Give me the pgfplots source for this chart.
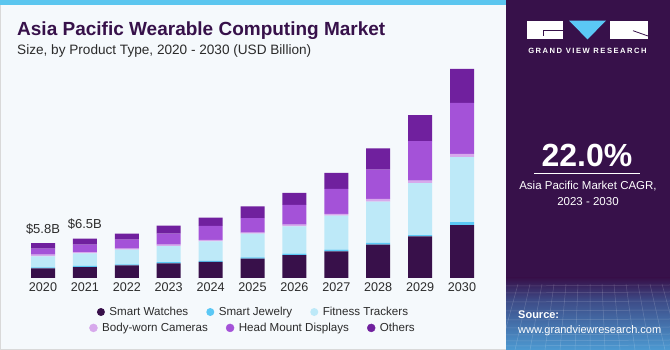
\documentclass[border=0pt]{standalone}
\usepackage{fontspec}
\setmainfont{Liberation Sans}
\newfontfamily\spaced[LetterSpace=20]{Liberation Sans}
\usepackage{pgfplots}
\usepackage{pgfplotstable}
\pgfplotsset{compat=1.18}
\definecolor{cSW}{HTML}{38104A}
\definecolor{cSJ}{HTML}{5BC8F5}
\definecolor{cFT}{HTML}{BDE9F8}
\definecolor{cBW}{HTML}{D7A9EC}
\definecolor{cHM}{HTML}{A452D8}
\definecolor{cOT}{HTML}{70209E}
\definecolor{bg}{HTML}{F5F9FC}
\definecolor{panel}{HTML}{37114A}
\definecolor{topbar}{HTML}{5BC6EF}
\definecolor{titlec}{HTML}{37114A}
\definecolor{txt}{HTML}{2B2B2B}
\definecolor{gblue}{HTML}{4C9AD2}
\definecolor{gmid}{HTML}{3D4A86}

\pgfplotstableread{
x SW SJ FT BW HM OT
0 1.61 0.17 1.83 0.28 1.00 0.94
1 1.83 0.17 2.11 0.22 1.22 1.00
2 2.11 0.17 2.44 0.17 1.50 1.00
3 2.44 0.22 2.67 0.22 1.83 1.33
4 2.67 0.17 3.28 0.22 2.33 1.39
5 3.22 0.22 3.94 0.17 2.44 1.94
6 3.83 0.22 4.56 0.28 3.28 2.00
7 4.44 0.28 5.67 0.28 4.17 2.67
8 5.56 0.28 6.89 0.44 4.89 3.56
9 6.94 0.22 8.67 0.39 6.61 4.33
10 8.83 0.50 10.80 0.55 8.50 5.67
}\datatable

\begin{document}
\begin{tikzpicture}[x=1pt,y=1pt]
% background
\fill[bg] (0,0) rectangle (670,350);
\draw[color=black!15, line width=0.8pt] (0.4,0.4) rectangle (669.6,349.6);
\fill[topbar] (0,345) rectangle (506,350);
% right panel
\fill[panel] (506,0) rectangle (670,350);
\shade[top color=panel, bottom color=gmid] (506,50) rectangle (670,72);
\shade[top color=gmid, bottom color=gblue] (506,0) rectangle (670,50.2);
\begin{scope}[white, opacity=0.18, line width=0.5pt]
\foreach \yy in {4,9,15,22,30,39,48,57,64} {\draw (506,\yy) -- (670,\yy+1);}
\foreach \xx in {500,515,530,545,560,575,590,605,620,635,650,665,680} {\draw (\xx,0) -- (\xx*0.8+118,66);}
\end{scope}
% logo
\fill[white] (527,310.7) rectangle (563,329.3);
\draw[panel, line width=0.8pt] (543,314) -- (543,319.3) -- (563,319.3);
\fill[cSJ] (569,329.3) -- (606,329.3) -- (587.5,310.7) -- cycle;
\fill[white] (610,310.7) rectangle (648,329.3);
\draw[panel, line width=0.8pt] (633,319.3) -- (648,314);
\node[text=white, font=\spaced\bfseries\fontsize{7.6}{9}\selectfont, anchor=base] at (587.5,296.5) {GRAND VIEW RESEARCH};
% CAGR
\node[text=white, font=\bfseries\fontsize{32}{36}\selectfont, anchor=base] at (587,183) {22.0\%};
\draw[white, line width=0.8pt] (534,176.7) -- (640,176.7);
\node[text=white, font=\fontsize{11.5}{13}\selectfont, anchor=base] at (588,160.5) {Asia Pacific Market CAGR,};
\node[text=white, font=\fontsize{11.5}{13}\selectfont, anchor=base] at (588,144.5) {2023 - 2030};
\node[text=white, font=\bfseries\fontsize{11}{13}\selectfont, anchor=base west, inner sep=0] at (518,31) {Source:};
\node[text=white, font=\fontsize{11}{13}\selectfont, anchor=base west, inner sep=0] at (518,16) {www.grandviewresearch.com};
% titles
\node[text=titlec, font=\bfseries\fontsize{19}{22}\selectfont, anchor=base west, inner sep=0] at (17,314) {Asia Pacific Wearable Computing Market};
\node[text=txt, font=\fontsize{13.6}{16}\selectfont, anchor=base west, inner sep=0] at (17,295.7) {Size, by Product Type, 2020 - 2030 (USD Billion)};

\begin{axis}[
  at={(1.1pt,72pt)}, anchor=south west,
  scale only axis, width=502.8pt, height=218pt,
  xmin=-1, xmax=11, ymin=0, ymax=36.33,
  enlargelimits=false, clip=false,
  axis line style={draw=none},
  major tick length=0pt,
  ytick=\empty,
  xtick={0,...,10},
  xticklabels={2020,2021,2022,2023,2024,2025,2026,2027,2028,2029,2030},
  xticklabel style={font=\fontsize{12.6}{14}\selectfont, text=txt, yshift=-1.3pt},
  ybar stacked, bar width=24pt,
  legend style={at={(0.502,-0.156)}, anchor=center, draw=none, fill=none,
    font=\fontsize{11.6}{13}\selectfont, text=txt,
    /tikz/every odd column/.append style={column sep=2.5pt},
    /tikz/every even column/.append style={column sep=16pt}},
  legend columns=3,
]
\addplot[fill=cSW, draw=none, legend image code/.code={\fill[cSW] (0pt,0pt) circle (4pt);}] table[x=x,y=SW] {\datatable};
\addlegendentry{Smart Watches}
\addplot[fill=cSJ, draw=none, legend image code/.code={\fill[cSJ] (0pt,0pt) circle (4pt);}] table[x=x,y=SJ] {\datatable};
\addlegendentry{Smart Jewelry}
\addplot[fill=cFT, draw=none, legend image code/.code={\fill[cFT] (0pt,0pt) circle (4pt);}] table[x=x,y=FT] {\datatable};
\addlegendentry{Fitness Trackers}
\addplot[fill=cBW, draw=none, forget plot] table[x=x,y=BW] {\datatable};
\addplot[fill=cHM, draw=none, forget plot] table[x=x,y=HM] {\datatable};
\addplot[fill=cOT, draw=none, forget plot] table[x=x,y=OT] {\datatable};
\node[font=\fontsize{13}{15}\selectfont, text=txt, anchor=base] at (axis cs:0,5.83) [yshift=10pt] {\$5.8B};
\node[font=\fontsize{13}{15}\selectfont, text=txt, anchor=base] at (axis cs:1,6.55) [yshift=10pt] {\$6.5B};
\end{axis}

\begin{axis}[
  at={(1.1pt,72pt)}, anchor=south west,
  scale only axis, width=502.8pt, height=218pt,
  xmin=0, xmax=1, ymin=0, ymax=1, hide axis,
  legend style={at={(0.501,-0.229)}, anchor=center, draw=none, fill=none,
    font=\fontsize{11.6}{13}\selectfont, text=txt,
    /tikz/every odd column/.append style={column sep=2.5pt},
    /tikz/every even column/.append style={column sep=16pt}},
  legend columns=3,
]
\addlegendimage{legend image code/.code={\fill[cBW] (0pt,0pt) circle (4pt);}}
\addlegendentry{Body-worn Cameras}
\addlegendimage{legend image code/.code={\fill[cHM] (0pt,0pt) circle (4pt);}}
\addlegendentry{Head Mount Displays}
\addlegendimage{legend image code/.code={\fill[cOT] (0pt,0pt) circle (4pt);}}
\addlegendentry{Others}
\end{axis}
\pgfresetboundingbox
\useasboundingbox (0,0) rectangle (670,350);
\end{tikzpicture}
\end{document}
